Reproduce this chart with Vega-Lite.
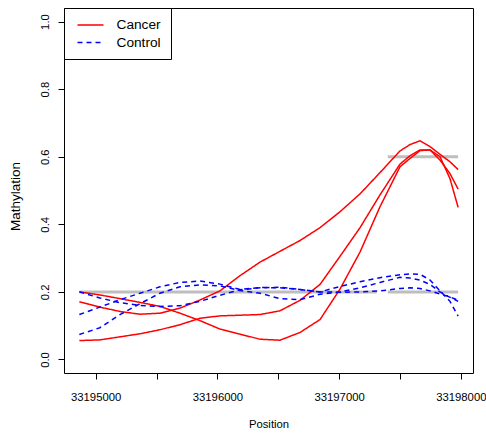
{
  "$schema": "https://vega.github.io/schema/vega-lite/v6.json",
  "width": 409,
  "height": 365,
  "autosize": {"type": "none"},
  "padding": {"left": 64, "top": 8, "right": 13, "bottom": 62},
  "background": "white",
  "config": {
    "view": {"stroke": "black", "strokeWidth": 1},
    "font": "Liberation Sans",
    "axis": {
      "grid": false, "domain": false, "tickColor": "black", "tickSize": 6, "tickWidth": 1,
      "labelColor": "black", "titleColor": "black", "labelFont": "Liberation Sans", "titleFont": "Liberation Sans",
      "labelFontSize": 11.3, "titleFontSize": 11.3, "titleFontWeight": "normal"
    },
    "legend": {
      "orient": "top-left", "offset": 0, "padding": 9.5, "strokeColor": "black", "fillColor": "white",
      "cornerRadius": 0, "symbolType": "M-2,0H2", "symbolSize": 169, "symbolStrokeWidth": 1.5,
      "symbolOffset": 9.5, "labelOffset": 18.5, "rowPadding": 2.5,
      "labelFont": "Liberation Sans", "labelFontSize": 13.7, "labelColor": "black"
    }
  },
  "datasets": {
    "gray": [
      {"seg": "a", "pos": 33194866, "v": 0.2}, {"seg": "a", "pos": 33197310, "v": 0.2},
      {"seg": "b", "pos": 33197400, "v": 0.2}, {"seg": "b", "pos": 33197978, "v": 0.2},
      {"seg": "c", "pos": 33197400, "v": 0.6}, {"seg": "c", "pos": 33197978, "v": 0.6}
    ],
    "curves": [
      {"s":"R1","g":"Cancer","pos":33194866,"v":0.171},{"s":"R1","g":"Cancer","pos":33195035,"v":0.155},{"s":"R1","g":"Cancer","pos":33195200,"v":0.142},{"s":"R1","g":"Cancer","pos":33195364,"v":0.134},{"s":"R1","g":"Cancer","pos":33195528,"v":0.137},{"s":"R1","g":"Cancer","pos":33195693,"v":0.152},{"s":"R1","g":"Cancer","pos":33195857,"v":0.176},{"s":"R1","g":"Cancer","pos":33196021,"v":0.203},{"s":"R1","g":"Cancer","pos":33196186,"v":0.248},{"s":"R1","g":"Cancer","pos":33196350,"v":0.288},{"s":"R1","g":"Cancer","pos":33196514,"v":0.32},{"s":"R1","g":"Cancer","pos":33196679,"v":0.352},{"s":"R1","g":"Cancer","pos":33196843,"v":0.39},{"s":"R1","g":"Cancer","pos":33197007,"v":0.437},{"s":"R1","g":"Cancer","pos":33197172,"v":0.49},{"s":"R1","g":"Cancer","pos":33197336,"v":0.553},{"s":"R1","g":"Cancer","pos":33197500,"v":0.617},{"s":"R1","g":"Cancer","pos":33197583,"v":0.636},{"s":"R1","g":"Cancer","pos":33197665,"v":0.647},{"s":"R1","g":"Cancer","pos":33197747,"v":0.63},{"s":"R1","g":"Cancer","pos":33197829,"v":0.607},{"s":"R1","g":"Cancer","pos":33197911,"v":0.585},{"s":"R1","g":"Cancer","pos":33197978,"v":0.562},
      {"s":"R2","g":"Cancer","pos":33194866,"v":0.2},{"s":"R2","g":"Cancer","pos":33195035,"v":0.191},{"s":"R2","g":"Cancer","pos":33195200,"v":0.18},{"s":"R2","g":"Cancer","pos":33195364,"v":0.169},{"s":"R2","g":"Cancer","pos":33195528,"v":0.157},{"s":"R2","g":"Cancer","pos":33195693,"v":0.137},{"s":"R2","g":"Cancer","pos":33195857,"v":0.115},{"s":"R2","g":"Cancer","pos":33196021,"v":0.09},{"s":"R2","g":"Cancer","pos":33196186,"v":0.075},{"s":"R2","g":"Cancer","pos":33196350,"v":0.06},{"s":"R2","g":"Cancer","pos":33196514,"v":0.057},{"s":"R2","g":"Cancer","pos":33196679,"v":0.08},{"s":"R2","g":"Cancer","pos":33196843,"v":0.118},{"s":"R2","g":"Cancer","pos":33197007,"v":0.208},{"s":"R2","g":"Cancer","pos":33197172,"v":0.318},{"s":"R2","g":"Cancer","pos":33197336,"v":0.452},{"s":"R2","g":"Cancer","pos":33197500,"v":0.57},{"s":"R2","g":"Cancer","pos":33197583,"v":0.595},{"s":"R2","g":"Cancer","pos":33197665,"v":0.618},{"s":"R2","g":"Cancer","pos":33197747,"v":0.62},{"s":"R2","g":"Cancer","pos":33197829,"v":0.6},{"s":"R2","g":"Cancer","pos":33197911,"v":0.535},{"s":"R2","g":"Cancer","pos":33197978,"v":0.45},
      {"s":"R3","g":"Cancer","pos":33194866,"v":0.056},{"s":"R3","g":"Cancer","pos":33195035,"v":0.058},{"s":"R3","g":"Cancer","pos":33195200,"v":0.067},{"s":"R3","g":"Cancer","pos":33195364,"v":0.076},{"s":"R3","g":"Cancer","pos":33195528,"v":0.088},{"s":"R3","g":"Cancer","pos":33195693,"v":0.103},{"s":"R3","g":"Cancer","pos":33195857,"v":0.122},{"s":"R3","g":"Cancer","pos":33196021,"v":0.129},{"s":"R3","g":"Cancer","pos":33196186,"v":0.131},{"s":"R3","g":"Cancer","pos":33196350,"v":0.133},{"s":"R3","g":"Cancer","pos":33196514,"v":0.144},{"s":"R3","g":"Cancer","pos":33196679,"v":0.175},{"s":"R3","g":"Cancer","pos":33196843,"v":0.222},{"s":"R3","g":"Cancer","pos":33197007,"v":0.305},{"s":"R3","g":"Cancer","pos":33197172,"v":0.39},{"s":"R3","g":"Cancer","pos":33197336,"v":0.487},{"s":"R3","g":"Cancer","pos":33197500,"v":0.578},{"s":"R3","g":"Cancer","pos":33197583,"v":0.603},{"s":"R3","g":"Cancer","pos":33197665,"v":0.62},{"s":"R3","g":"Cancer","pos":33197747,"v":0.62},{"s":"R3","g":"Cancer","pos":33197829,"v":0.59},{"s":"R3","g":"Cancer","pos":33197911,"v":0.55},{"s":"R3","g":"Cancer","pos":33197978,"v":0.504},
      {"s":"C1","g":"Control","pos":33194866,"v":0.2},{"s":"C1","g":"Control","pos":33195035,"v":0.182},{"s":"C1","g":"Control","pos":33195200,"v":0.168},{"s":"C1","g":"Control","pos":33195364,"v":0.16},{"s":"C1","g":"Control","pos":33195528,"v":0.157},{"s":"C1","g":"Control","pos":33195693,"v":0.159},{"s":"C1","g":"Control","pos":33195857,"v":0.172},{"s":"C1","g":"Control","pos":33196021,"v":0.19},{"s":"C1","g":"Control","pos":33196186,"v":0.206},{"s":"C1","g":"Control","pos":33196350,"v":0.212},{"s":"C1","g":"Control","pos":33196514,"v":0.214},{"s":"C1","g":"Control","pos":33196679,"v":0.207},{"s":"C1","g":"Control","pos":33196843,"v":0.2},{"s":"C1","g":"Control","pos":33197007,"v":0.199},{"s":"C1","g":"Control","pos":33197172,"v":0.2},{"s":"C1","g":"Control","pos":33197336,"v":0.203},{"s":"C1","g":"Control","pos":33197500,"v":0.21},{"s":"C1","g":"Control","pos":33197583,"v":0.212},{"s":"C1","g":"Control","pos":33197665,"v":0.21},{"s":"C1","g":"Control","pos":33197747,"v":0.203},{"s":"C1","g":"Control","pos":33197829,"v":0.194},{"s":"C1","g":"Control","pos":33197911,"v":0.185},{"s":"C1","g":"Control","pos":33197978,"v":0.175},
      {"s":"C2","g":"Control","pos":33194866,"v":0.133},{"s":"C2","g":"Control","pos":33195035,"v":0.155},{"s":"C2","g":"Control","pos":33195200,"v":0.177},{"s":"C2","g":"Control","pos":33195364,"v":0.196},{"s":"C2","g":"Control","pos":33195528,"v":0.215},{"s":"C2","g":"Control","pos":33195693,"v":0.228},{"s":"C2","g":"Control","pos":33195857,"v":0.232},{"s":"C2","g":"Control","pos":33196021,"v":0.223},{"s":"C2","g":"Control","pos":33196186,"v":0.207},{"s":"C2","g":"Control","pos":33196350,"v":0.213},{"s":"C2","g":"Control","pos":33196514,"v":0.212},{"s":"C2","g":"Control","pos":33196679,"v":0.207},{"s":"C2","g":"Control","pos":33196843,"v":0.2},{"s":"C2","g":"Control","pos":33197007,"v":0.216},{"s":"C2","g":"Control","pos":33197172,"v":0.23},{"s":"C2","g":"Control","pos":33197336,"v":0.242},{"s":"C2","g":"Control","pos":33197500,"v":0.251},{"s":"C2","g":"Control","pos":33197583,"v":0.253},{"s":"C2","g":"Control","pos":33197665,"v":0.252},{"s":"C2","g":"Control","pos":33197747,"v":0.235},{"s":"C2","g":"Control","pos":33197829,"v":0.203},{"s":"C2","g":"Control","pos":33197911,"v":0.172},{"s":"C2","g":"Control","pos":33197978,"v":0.128},
      {"s":"C3","g":"Control","pos":33194866,"v":0.074},{"s":"C3","g":"Control","pos":33195035,"v":0.094},{"s":"C3","g":"Control","pos":33195200,"v":0.133},{"s":"C3","g":"Control","pos":33195364,"v":0.165},{"s":"C3","g":"Control","pos":33195528,"v":0.196},{"s":"C3","g":"Control","pos":33195693,"v":0.215},{"s":"C3","g":"Control","pos":33195857,"v":0.221},{"s":"C3","g":"Control","pos":33196021,"v":0.218},{"s":"C3","g":"Control","pos":33196186,"v":0.204},{"s":"C3","g":"Control","pos":33196350,"v":0.196},{"s":"C3","g":"Control","pos":33196514,"v":0.18},{"s":"C3","g":"Control","pos":33196679,"v":0.177},{"s":"C3","g":"Control","pos":33196843,"v":0.193},{"s":"C3","g":"Control","pos":33197007,"v":0.2},{"s":"C3","g":"Control","pos":33197172,"v":0.212},{"s":"C3","g":"Control","pos":33197336,"v":0.228},{"s":"C3","g":"Control","pos":33197500,"v":0.243},{"s":"C3","g":"Control","pos":33197583,"v":0.241},{"s":"C3","g":"Control","pos":33197665,"v":0.235},{"s":"C3","g":"Control","pos":33197747,"v":0.222},{"s":"C3","g":"Control","pos":33197829,"v":0.2},{"s":"C3","g":"Control","pos":33197911,"v":0.184},{"s":"C3","g":"Control","pos":33197978,"v":0.172}
    ]
  },
  "layer": [
    {
      "data": {"name": "gray"},
      "mark": {"type": "line", "color": "#BEBEBE", "strokeWidth": 3},
      "encoding": {
        "x": {
          "field": "pos", "type": "quantitative", "title": "Position",
          "scale": {"domain": [33194740, 33198100], "nice": false, "zero": false},
          "axis": {
            "values": [33195000, 33195500, 33196000, 33196500, 33197000, 33197500, 33198000],
            "labelExpr": "datum.value % 1000 === 0 ? format(datum.value, 'd') : ''",
            "labelBaseline": "alphabetic", "labelPadding": 21, "labelFlush": false, "labelOverlap": false,
            "titleBaseline": "alphabetic", "titleY": 54
          }
        },
        "y": {
          "field": "v", "type": "quantitative", "title": "Mathylation",
          "scale": {"domain": [-0.04, 1.04], "nice": false, "zero": false},
          "axis": {
            "values": [0, 0.2, 0.4, 0.6, 0.8, 1.0], "format": ".1f",
            "labelAngle": 270, "labelAlign": "center", "labelBaseline": "alphabetic", "labelPadding": 10,
            "labelFlush": false, "labelOverlap": false,
            "titleBaseline": "alphabetic", "titleX": -45, "titleY": 188, "titleAlign": "center", "titleFontSize": 13.5
          }
        },
        "detail": {"field": "seg"}
      }
    },
    {
      "data": {"name": "curves"},
      "mark": {"type": "line", "strokeWidth": 1.5},
      "encoding": {
        "x": {"field": "pos", "type": "quantitative"},
        "y": {"field": "v", "type": "quantitative"},
        "detail": {"field": "s"},
        "color": {
          "field": "g", "type": "nominal",
          "scale": {"domain": ["Cancer", "Control"], "range": ["#FF0000", "#0000FF"]},
          "legend": {"title": null}
        },
        "strokeDash": {
          "field": "g", "type": "nominal",
          "scale": {"domain": ["Cancer", "Control"], "range": [[1, 0], [5, 4]]},
          "legend": {"title": null}
        }
      }
    }
  ]
}
